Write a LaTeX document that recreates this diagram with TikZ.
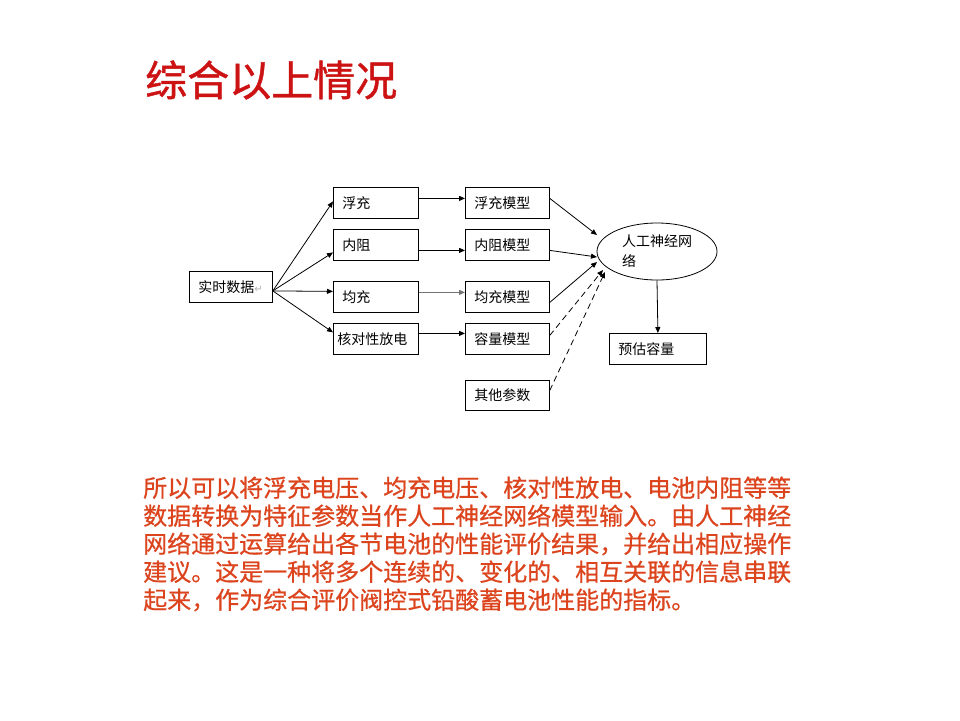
\documentclass[tikz,border=0pt]{standalone}
\usepackage{fontspec}
\newfontfamily\cjk{Noto Sans CJK SC}
\newfontfamily\cjkpara[FakeBold=0.6]{Noto Sans CJK SC}
\newfontfamily\cjktitle[FakeBold=1]{Noto Sans CJK SC}
\newfontfamily\dejavu{DejaVu Sans}
\usetikzlibrary{arrows.meta,shapes.geometric}
\definecolor{titlered}{RGB}{204,18,18}
\definecolor{parared}{RGB}{220,68,30}
\tikzset{
  bx/.style={draw, line width=0.8pt, anchor=north west, inner xsep=9pt, inner ysep=0pt,
    minimum height=31pt, text width=#1, align=left,
    font=\cjk\fontsize{14pt}{18pt}\selectfont},
  conn/.style={line width=0.8pt, -{Triangle[length=6pt,width=5pt]}},
  dconn/.style={conn, dash pattern=on 6pt off 4pt},
}
\begin{document}
\begin{tikzpicture}[x=1pt,y=-1pt]
\fill[white] (0,0) rectangle (960,720);
\useasboundingbox (0,0) rectangle (960,720);

% title
\node[anchor=west, inner sep=0pt, text=titlered, font=\cjktitle\fontsize{42pt}{46pt}\selectfont] (title) at (145,80) {综合以上情况};

% left column
\node[bx=65pt] (rt) at (189,271) {实时数据{\dejavu\color{black!30}\fontsize{10pt}{12pt}\selectfont ↵}};
\node[bx=67pt] (fc) at (333,187) {浮充};
\node[bx=67pt] (nz) at (333,229) {内阻};
\node[bx=67pt] (jc) at (333,281) {均充};
\node[bx=77pt, inner xsep=4pt] (hd) at (333,323) {核对性放电};

% models
\node[bx=66pt] (fcm) at (465,187) {浮充模型};
\node[bx=66pt] (nzm) at (465,229) {内阻模型};
\node[bx=66pt] (jcm) at (465,281) {均充模型};
\node[bx=66pt] (rlm) at (465,323) {容量模型};
\node[bx=66pt, minimum height=30pt] (qt) at (465,380) {其他参数};

% network
\node[draw, ellipse, line width=0.8pt, minimum width=120pt, minimum height=57pt, inner sep=0pt,
  text width=70pt, align=left, font=\cjk\fontsize{14pt}{20pt}\selectfont] (nn) at (657,251.5) {人工神经网\\络};

\node[bx=79pt] (yg) at (609,333) {预估容量};

% connectors from real-time data
\draw[conn] ([yshift=-4pt]rt.east) -- ([yshift=1.5pt]fc.west);
\draw[conn] ([yshift=-4pt]rt.east) -- ([yshift=-7.5pt]nz.west);
\draw[conn] ([yshift=-4pt]rt.east) -- ([yshift=5.5pt]jc.west);
\draw[conn] ([yshift=-4pt]rt.east) -- ([yshift=6.5pt]hd.west);

% box -> model
\draw[conn] ([yshift=4.5pt]fc.east) -- ([yshift=4.5pt]fcm.west);
\draw[conn] ([yshift=-5.5pt]nz.east) -- ([yshift=-5.5pt]nzm.west);
\draw[conn, draw=black!55] ([yshift=4.5pt]jc.east) -- ([yshift=4.5pt]jcm.west);
\draw[conn] ([yshift=5.5pt]hd.east) -- ([yshift=5.5pt]rlm.west);

% model -> network
\draw[conn] ([yshift=4.5pt]fcm.east) -- ([shift={(-60pt,16.5pt)}]nn.center);
\draw[conn] ([yshift=-5.5pt]nzm.east) -- ([shift={(-60pt,-5.5pt)}]nn.center);
\draw[conn] ([yshift=-5.5pt]jcm.east) -- ([shift={(-60pt,-10.5pt)}]nn.center);
\draw[dconn] ([yshift=3.5pt]rlm.east) -- ([shift={(-54pt,-18.5pt)}]nn.center);
\draw[dconn] ([yshift=5pt]qt.east) -- ([shift={(-52pt,-20.5pt)}]nn.center);

% network -> estimate
\draw[conn] (nn.south) -- (yg.north);

% paragraph
\node[anchor=west, inner sep=0pt, align=left, text=parared,
  font=\cjkpara\fontsize{24pt}{28pt}\selectfont] (para) at (143,544)
{所以可以将浮充电压、均充电压、核对性放电、电池内阻等等\\
数据转换为特征参数当作人工神经网络模型输入。由人工神经\\
网络通过运算给出各节电池的性能评价结果，并给出相应操作\\
建议。这是一种将多个连续的、变化的、相互关联的信息串联\\
起来，作为综合评价阀控式铅酸蓄电池性能的指标。};
\end{tikzpicture}
\end{document}
